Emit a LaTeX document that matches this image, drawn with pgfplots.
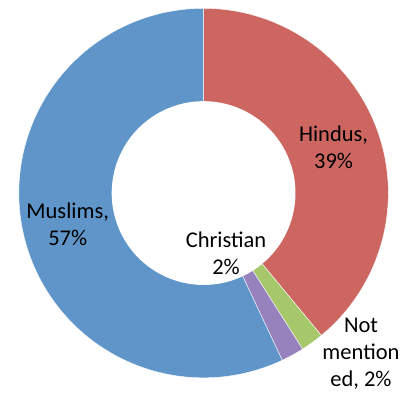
\documentclass[border=0pt]{standalone}
\usepackage{pgfplots}
\pgfplotsset{compat=1.18}
\usepackage{pgfplotstable}
\usepackage{fontspec}
\setmainfont{Carlito}
\definecolor{cblue}{HTML}{5F95C9}
\definecolor{cred}{HTML}{CD6660}
\definecolor{cgreen}{HTML}{A6C86B}
\definecolor{cpurple}{HTML}{9782BD}

\pgfplotstableread{
label pct
Hindus 39
NotMentioned 2
Christian 2
Muslims 57
}\slices

\def\cx{197}\def\cy{205.5}\def\R{189}\def\r{94}

\begin{document}
\pgfplotstablegetelem{0}{pct}\of\slices \let\pA\pgfplotsretval
\pgfplotstablegetelem{1}{pct}\of\slices \let\pB\pgfplotsretval
\pgfplotstablegetelem{2}{pct}\of\slices \let\pC\pgfplotsretval
\pgfplotstablegetelem{3}{pct}\of\slices \let\pD\pgfplotsretval
\pgfmathsetmacro\aA{90}
\pgfmathsetmacro\aB{\aA-3.6*\pA}
\pgfmathsetmacro\aC{\aB-3.6*\pB}
\pgfmathsetmacro\aD{\aC-3.6*\pC}
\pgfmathsetmacro\aE{\aD-3.6*\pD}
\begin{tikzpicture}
\begin{axis}[
  x=1bp, y=1bp, scale only axis, enlargelimits=false,
  xmin=0, xmax=401, ymin=0, ymax=403,
  axis lines=none, ticks=none, clip=false,
]
\addplot[fill=cred, draw=white, line width=0.4pt, domain=\aB:\aA, samples=90]
  ({\cx+\R*cos(x)},{\cy+\R*sin(x)}) -- (axis cs:\cx,\cy) -- cycle;
\addplot[fill=cgreen, draw=white, line width=0.4pt, domain=\aC:\aB, samples=10]
  ({\cx+\R*cos(x)},{\cy+\R*sin(x)}) -- (axis cs:\cx,\cy) -- cycle;
\addplot[fill=cpurple, draw=white, line width=0.4pt, domain=\aD:\aC, samples=10]
  ({\cx+\R*cos(x)},{\cy+\R*sin(x)}) -- (axis cs:\cx,\cy) -- cycle;
\addplot[fill=cblue, draw=white, line width=0.4pt, domain=\aE:\aD, samples=120]
  ({\cx+\R*cos(x)},{\cy+\R*sin(x)}) -- (axis cs:\cx,\cy) -- cycle;
\addplot[fill=white, draw=none, domain=0:360, samples=150]
  ({\cx+\r*cos(x)},{\cy+\r*sin(x)}) -- cycle;
\begin{scope}[every node/.style={align=center, inner sep=0pt, font=\fontsize{23.1pt}{27.6pt}\selectfont}]
\node at (axis cs:330,252) {Hindus,\\39\%};
\node at (axis cs:58,174) {Muslims,\\57\%};
\node at (axis cs:220,144) {Christian\\2\%};
\node at (axis cs:358,41) {Not\\mention\\ed, 2\%};
\end{scope}
\coordinate (bbsw) at (axis cs:0,0);
\coordinate (bbne) at (axis cs:401,403);
\end{axis}
\pgfresetboundingbox
\useasboundingbox (bbsw) rectangle (bbne);
\end{tikzpicture}
\end{document}
